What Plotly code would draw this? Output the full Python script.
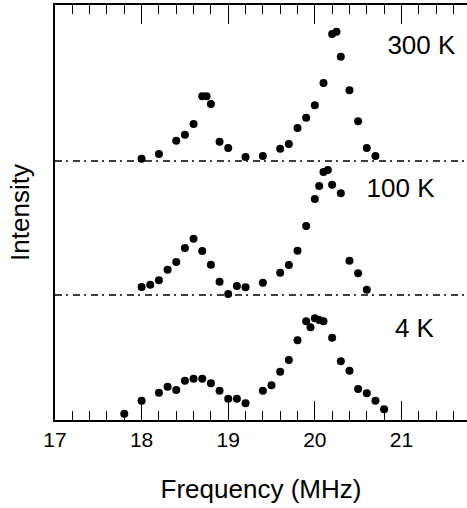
import plotly.graph_objects as go

# ---- data ----
freq_300 = [18.0, 18.2, 18.4, 18.5, 18.6, 18.7, 18.75, 18.8, 18.9, 19.0, 19.2, 19.4, 19.6, 19.7,
            19.8, 19.9, 20.0, 20.1, 20.2, 20.25, 20.3, 20.4, 20.5, 20.6, 20.7]
int_300 = [0.023, 0.07, 0.203, 0.263, 0.37, 0.647, 0.647, 0.57, 0.193, 0.13, 0.04, 0.05, 0.123, 0.17,
           0.33, 0.433, 0.557, 0.78, 1.27, 1.293, 1.043, 0.707, 0.397, 0.13, 0.05]

freq_100 = [18.0, 18.1, 18.2, 18.3, 18.4, 18.5, 18.6, 18.7, 18.8, 18.9, 19.0, 19.1, 19.2, 19.4,
            19.6, 19.7, 19.8, 19.9, 20.0, 20.05, 20.1, 20.15, 20.2, 20.3, 20.4, 20.5, 20.6]
int_100 = [0.08, 0.103, 0.147, 0.253, 0.33, 0.47, 0.563, 0.44, 0.303, 0.133, 0.01, 0.09, 0.077, 0.123,
           0.223, 0.30, 0.443, 0.69, 0.96, 1.09, 1.23, 1.25, 1.103, 1.017, 0.343, 0.217, 0.053]

freq_4 = [17.8, 18.0, 18.2, 18.3, 18.4, 18.5, 18.6, 18.7, 18.8, 18.9, 19.0, 19.1, 19.2, 19.4, 19.5,
          19.6, 19.7, 19.8, 19.9, 19.95, 20.0, 20.05, 20.1, 20.2, 20.3, 20.4, 20.5, 20.6, 20.7, 20.8]
int_4 = [0.063, 0.193, 0.273, 0.333, 0.30, 0.393, 0.413, 0.413, 0.367, 0.293, 0.213, 0.213, 0.167,
         0.293, 0.347, 0.483, 0.60, 0.797, 0.987, 0.927, 1.017, 1.00, 0.987, 0.823, 0.587, 0.493,
         0.31, 0.267, 0.193, 0.107]

temperatures = ["300 K", "100 K", "4 K"]
offsets = [2.59, 1.25, 0.0]
label_freq = [21.23, 20.99, 21.15]
label_height = [3.73, 2.30, 0.90]

x_ticks = [17, 18, 19, 20, 21]

series = [(freq_300, int_300), (freq_100, int_100), (freq_4, int_4)]

FONT = "Liberation Sans, Arial, Helvetica, sans-serif"

fig = go.Figure()
for (fx, iy), off, name in zip(series, offsets, temperatures):
    fig.add_trace(go.Scatter(
        x=fx, y=[v + off for v in iy], mode="markers", name=name,
        marker=dict(color="black", size=8, line=dict(width=0)),
        showlegend=False, cliponaxis=False,
    ))

# temperature labels as a text trace (data coordinates)
fig.add_trace(go.Scatter(
    x=label_freq, y=label_height, mode="text", text=temperatures,
    textfont=dict(size=26, color="black", family=FONT), textposition="middle center",
    showlegend=False, hoverinfo="skip", cliponaxis=False,
))

# baselines (dash-dot) for offset spectra
for off in offsets[:2]:
    fig.add_shape(type="line", xref="paper", x0=0, x1=1, yref="y", y0=off, y1=off,
                  line=dict(color="black", width=1.3, dash="7px,4px,2px,5px"))

fig.update_layout(
    width=467, height=508,
    margin=dict(l=55, r=0, t=5, b=88),
    plot_bgcolor="white",
    xaxis=dict(
        range=[17, 21.757],
        ticks="inside", ticklen=19,
        tickvals=x_ticks,
        minor=dict(dtick=0.2, tick0=17, ticks="inside", ticklen=9),
        showline=True, linecolor="black", linewidth=2, mirror="ticks",
        tickcolor="black", tickwidth=1.3,
        tickfont=dict(size=21, family=FONT, color="black"),
        title=dict(text="Frequency (MHz)", font=dict(size=26, family=FONT, color="black"),
                   standoff=30),
    ),
    yaxis=dict(range=[0, 4.15], showline=True, linecolor="black", linewidth=2,
               showticklabels=False, ticks="",
               title=dict(text="Intensity", font=dict(size=26, family=FONT, color="black"),
                          standoff=16)),
)

fig.write_html("out.html")
